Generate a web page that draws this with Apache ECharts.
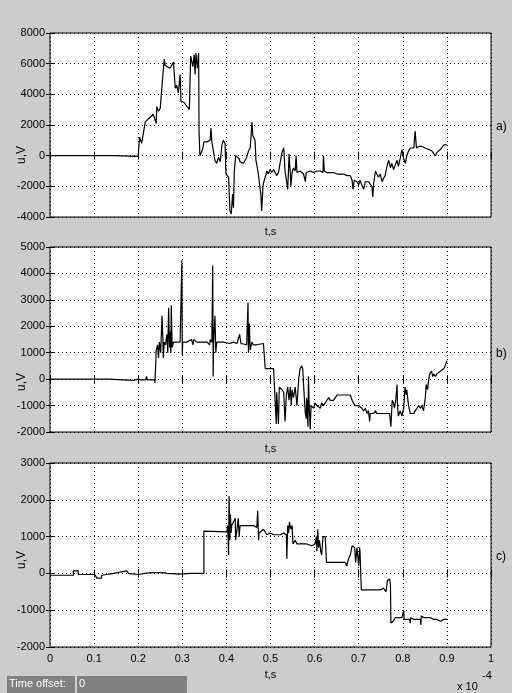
<!DOCTYPE html>
<html>
<head>
<meta charset="utf-8">
<script src="https://cdn.jsdelivr.net/npm/echarts@6/dist/echarts.min.js"></script>
<style>
html,body{margin:0;padding:0;background:#cccccc;}
#c{width:512px;height:693px;}
</style>
</head>
<body>
<div id="c"></div>
<script>
// time in units of 1e-4 s, voltage in V
const xTicks = [0,0.1,0.2,0.3,0.4,0.5,0.6,0.7,0.8,0.9,1];
const panelLabels = ['a)','b)','c)'];
const yName = 'u,V';
const yRangeA = [-4000, 8000, 2000];
const yRangeB = [-2000, 5000, 1000];
const yRangeC = [-2000, 3000, 1000];

const seriesA = [[0,0],[0.145,0],[0.145,-50],[0.2,-50],[0.2,0],[0.203,1200],[0.208,800],[0.212,1500],[0.216,2200],[0.234,2700],[0.241,2100],[0.242,3200],[0.246,2900],[0.25,3100],[0.253,4200],[0.257,4300],[0.259,6300],[0.261,5900],[0.272,5700],[0.276,5800],[0.28,6100],[0.284,4400],[0.287,4600],[0.291,4100],[0.295,5300],[0.297,3500],[0.303,3500],[0.316,3000],[0.319,6500],[0.324,5800],[0.327,6600],[0.329,5300],[0.331,6700],[0.334,5700],[0.337,6700],[0.338,1500],[0.34,0],[0.343,-100],[0.346,400],[0.349,900],[0.356,900],[0.363,1000],[0.365,1800],[0.367,900],[0.371,800],[0.374,-300],[0.378,-500],[0.382,-100],[0.386,-400],[0.39,700],[0.393,1000],[0.397,800],[0.399,-1200],[0.405,-1400],[0.407,-1300],[0.408,-3600],[0.411,-3800],[0.414,-2500],[0.416,-3400],[0.418,-1000],[0.421,0],[0.425,100],[0.429,-200],[0.431,-400],[0.435,-300],[0.439,-500],[0.443,-400],[0.446,-100],[0.45,300],[0.454,500],[0.458,2200],[0.46,1300],[0.463,1300],[0.465,1000],[0.467,-300],[0.469,-600],[0.473,-1300],[0.475,-1800],[0.478,-2500],[0.48,-3600],[0.483,-2000],[0.484,-1800],[0.488,-1900],[0.492,-1000],[0.495,-1200],[0.499,-900],[0.503,-1100],[0.507,-900],[0.511,-1000],[0.514,-1300],[0.518,-1100],[0.522,-1000],[0.526,200],[0.53,500],[0.533,-1000],[0.537,-1000],[0.539,-2200],[0.541,-800],[0.542,100],[0.545,-1200],[0.546,-2000],[0.549,-1100],[0.552,-800],[0.556,-1000],[0.558,0],[0.56,-1100],[0.564,-1100],[0.567,-1000],[0.571,-1000],[0.575,-1200],[0.579,-1700],[0.581,-1100],[0.59,-1000],[0.598,-1100],[0.605,-1000],[0.613,-1000],[0.619,-1100],[0.62,0],[0.622,-1000],[0.628,-1100],[0.635,-1100],[0.643,-1100],[0.651,-1200],[0.658,-1200],[0.666,-1200],[0.673,-1300],[0.681,-1300],[0.685,-1600],[0.687,-2200],[0.69,-1600],[0.696,-1700],[0.7,-1900],[0.703,-1600],[0.707,-1700],[0.711,-2200],[0.715,-1700],[0.719,-1800],[0.722,-1700],[0.726,-1800],[0.73,-2000],[0.732,-2700],[0.734,-1800],[0.738,-1000],[0.741,-1200],[0.745,-1400],[0.749,-1200],[0.753,-1700],[0.756,-1500],[0.76,-1300],[0.764,-700],[0.768,-300],[0.772,-800],[0.775,-500],[0.779,-900],[0.783,-600],[0.787,-300],[0.79,-700],[0.794,-200],[0.798,400],[0.802,-200],[0.806,-500],[0.809,0],[0.813,300],[0.817,500],[0.821,400],[0.825,500],[0.828,1600],[0.831,500],[0.836,600],[0.843,600],[0.851,500],[0.859,400],[0.866,300],[0.874,0],[0.877,200],[0.881,100],[0.885,400],[0.889,300],[0.893,700],[0.896,600],[0.9,700]];

const seriesB = [[0,0],[0.132,0],[0.132,-50],[0.189,-50],[0.189,0],[0.2,0],[0.205,-30],[0.217,-30],[0.219,100],[0.221,-30],[0.238,-30],[0.238,-150],[0.241,1100],[0.244,1300],[0.246,800],[0.248,1400],[0.251,1000],[0.254,2400],[0.256,1500],[0.257,800],[0.259,1400],[0.262,1300],[0.265,1700],[0.267,1000],[0.269,2700],[0.271,1200],[0.272,1800],[0.274,1000],[0.275,2800],[0.277,1200],[0.28,1400],[0.287,1400],[0.295,1400],[0.299,4500],[0.3,900],[0.301,1400],[0.31,1400],[0.321,1500],[0.324,1300],[0.326,1500],[0.333,1400],[0.34,1400],[0.356,1400],[0.362,1300],[0.363,1500],[0.367,1400],[0.369,4300],[0.37,100],[0.371,1400],[0.374,2400],[0.376,1000],[0.378,1400],[0.386,1400],[0.393,1400],[0.408,1350],[0.416,1400],[0.424,1350],[0.43,1700],[0.433,1350],[0.446,1300],[0.449,2900],[0.45,1000],[0.452,2100],[0.454,1100],[0.458,1400],[0.461,1300],[0.469,1300],[0.484,1350],[0.488,1300],[0.488,400],[0.507,400],[0.511,-1000],[0.513,-1700],[0.514,-500],[0.518,-1700],[0.52,-300],[0.526,-400],[0.53,-500],[0.533,-1600],[0.536,-600],[0.539,-300],[0.542,-800],[0.545,-300],[0.547,-1000],[0.549,-400],[0.552,-700],[0.556,-300],[0.56,-1000],[0.564,0],[0.567,400],[0.571,500],[0.573,400],[0.576,-500],[0.579,-1300],[0.581,-1500],[0.582,-700],[0.585,-1800],[0.586,100],[0.588,-1100],[0.59,-1900],[0.592,-1000],[0.594,-1000],[0.598,-1100],[0.601,-900],[0.605,-1000],[0.609,-1000],[0.613,-1100],[0.616,-900],[0.62,-1000],[0.624,-1000],[0.628,-800],[0.632,-700],[0.635,-800],[0.643,-800],[0.647,-700],[0.651,-600],[0.658,-600],[0.666,-600],[0.673,-600],[0.681,-600],[0.685,-800],[0.688,-900],[0.692,-1000],[0.7,-1000],[0.707,-1100],[0.711,-1200],[0.715,-1100],[0.719,-1300],[0.722,-1200],[0.725,-1600],[0.726,-1300],[0.734,-1300],[0.738,-1200],[0.741,-1300],[0.745,-1300],[0.756,-1300],[0.764,-1300],[0.77,-1300],[0.773,-1800],[0.776,-800],[0.779,-900],[0.781,-1100],[0.784,-800],[0.787,-200],[0.788,-1000],[0.79,-1400],[0.794,-1200],[0.798,-1400],[0.802,-1100],[0.805,-300],[0.808,-600],[0.809,-400],[0.813,-1000],[0.817,-1300],[0.825,-1300],[0.828,-1200],[0.832,-1100],[0.836,-1000],[0.84,-1100],[0.843,-1000],[0.847,-1200],[0.851,-700],[0.853,-200],[0.856,-400],[0.859,0],[0.861,200],[0.865,300],[0.868,100],[0.87,200],[0.874,100],[0.877,200],[0.881,200],[0.885,300],[0.889,300],[0.893,400],[0.896,500],[0.9,700]];

const seriesC = [[0,-50],[0.053,-50],[0.053,70],[0.064,70],[0.064,-30],[0.102,-30],[0.102,-50],[0.106,-130],[0.117,-130],[0.117,-50],[0.121,0],[0.144,0],[0.144,50],[0.174,70],[0.178,0],[0.2,-30],[0.204,0],[0.227,20],[0.257,20],[0.265,0],[0.295,-20],[0.318,0],[0.349,0],[0.349,1150],[0.401,1130],[0.403,1300],[0.405,500],[0.406,2100],[0.408,900],[0.409,1600],[0.411,1100],[0.412,1300],[0.416,1300],[0.42,1500],[0.421,900],[0.425,1300],[0.427,1500],[0.429,1000],[0.431,1300],[0.446,1300],[0.461,1300],[0.469,1250],[0.471,1700],[0.473,900],[0.474,1100],[0.477,1100],[0.484,1200],[0.492,1050],[0.499,1100],[0.507,1050],[0.522,1050],[0.53,1100],[0.536,1050],[0.537,400],[0.539,1300],[0.541,1100],[0.543,1400],[0.546,1200],[0.549,1300],[0.551,800],[0.556,900],[0.56,800],[0.564,850],[0.571,800],[0.582,800],[0.594,750],[0.601,800],[0.604,1000],[0.605,600],[0.607,1200],[0.609,700],[0.611,900],[0.614,600],[0.616,500],[0.619,1000],[0.624,1000],[0.627,300],[0.632,300],[0.643,300],[0.658,300],[0.669,300],[0.673,200],[0.677,400],[0.681,500],[0.685,750],[0.688,700],[0.691,700],[0.693,300],[0.696,700],[0.698,700],[0.7,200],[0.702,700],[0.703,600],[0.706,-450],[0.719,-450],[0.734,-450],[0.738,-400],[0.749,-450],[0.756,-400],[0.762,-500],[0.765,-200],[0.769,-200],[0.77,-150],[0.772,-300],[0.773,-1350],[0.778,-1300],[0.779,-1250],[0.783,-1200],[0.79,-1200],[0.798,-1200],[0.802,-1000],[0.803,-1250],[0.809,-1250],[0.815,-1250],[0.817,-1350],[0.818,-1200],[0.825,-1250],[0.84,-1250],[0.841,-1400],[0.842,-1150],[0.847,-1200],[0.862,-1200],[0.87,-1250],[0.877,-1250],[0.885,-1300],[0.893,-1250],[0.9,-1250]];

const FONT = 'Liberation Sans';
const chart = echarts.init(document.getElementById('c'), null, {renderer:'canvas'});

const grids = [
  {left:50, top:33, width:441, height:184},
  {left:50, top:247, width:441, height:185},
  {left:50, top:463, width:441, height:184}
];
const yRanges = [yRangeA, yRangeB, yRangeC];
const datas = [seriesA, seriesB, seriesC];
const xNameGaps = [9, 11, 22];

const grid = [], xAxis = [], yAxis = [], series = [];
grids.forEach((g, i) => {
  grid.push(Object.assign({show:true, backgroundColor:'#ffffff', borderColor:'#000', borderWidth:1,
    containLabel:false, outerBoundsMode:'none'}, g));
  const splitLine = {show:true, lineStyle:{color:'#000', type:[1,3], width:1}};
  xAxis.push({
    type:'value', gridIndex:i, min:xTicks[0], max:xTicks[xTicks.length-1], interval:0.1,
    position:'bottom',
    axisLine:{show:false}, axisTick:{show:true, inside:true, length:4, lineStyle:{color:'#000'}},
    axisLabel:{show:i===2, color:'#000', fontFamily:FONT, fontSize:11, margin:6,
      formatter:v => String(+v.toFixed(1))},
    splitLine:splitLine,
    name:'t,s', nameLocation:'middle', nameGap:xNameGaps[i], nameMoveOverlap:false,
    nameTextStyle:{color:'#000', fontFamily:FONT, fontSize:11}
  });
  xAxis.push({
    type:'value', gridIndex:i, min:0, max:1, interval:0.1, position:'top',
    axisLine:{show:false}, axisTick:{show:true, inside:true, length:4, lineStyle:{color:'#000'}},
    axisLabel:{show:false}, splitLine:{show:false}
  });
  const r = yRanges[i];
  yAxis.push({
    type:'value', gridIndex:i, min:r[0], max:r[1], interval:r[2], position:'left',
    axisLine:{show:false}, axisTick:{show:true, inside:true, length:4, lineStyle:{color:'#000'}},
    axisLabel:{color:'#000', fontFamily:FONT, fontSize:11, margin:5, formatter:v => String(Math.round(v))},
    splitLine:splitLine
  });
  yAxis.push({
    type:'value', gridIndex:i, min:r[0], max:r[1], interval:r[2], position:'right',
    axisLine:{show:false}, axisTick:{show:true, inside:true, length:4, lineStyle:{color:'#000'}},
    axisLabel:{show:false}, splitLine:{show:false}
  });
  series.push({
    type:'line', xAxisIndex:i*2, yAxisIndex:i*2, data:datas[i],
    showSymbol:false, symbol:'none', sampling:null,
    lineStyle:{color:'#000', width:1.2}, animation:false, z:5
  });
});

const labelY = [128, 355, 558];
const yNameY = [155, 382, 560];
const graphic = panelLabels.map((t, i) => ({
  type:'text', left:496, top:labelY[i]-7,
  style:{text:t, fill:'#000', font:'12px "' + FONT + '"'}
}));
yNameY.forEach(y => graphic.push({
  type:'text', x:22, y:y, rotation:Math.PI/2, z:10,
  style:{text:yName, fill:'#000', font:'12px "' + FONT + '"', align:'center', verticalAlign:'middle'}
}));
graphic.push(
  {type:'rect', shape:{x:7, y:676, width:68, height:17}, style:{fill:'#808080'}},
  {type:'rect', shape:{x:77, y:676, width:110, height:17}, style:{fill:'#808080'}},
  {type:'text', left:9, top:678, style:{text:'Time offset:', fill:'#fff', font:'11px "' + FONT + '"'}},
  {type:'text', left:79, top:678, style:{text:'0', fill:'#fff', font:'11px "' + FONT + '"'}},
  {type:'text', left:457, top:681, style:{text:'x 10', fill:'#000', font:'11px "' + FONT + '"'}},
  {type:'text', left:482, top:670, style:{text:'-4', fill:'#000', font:'11px "' + FONT + '"'}}
);

chart.setOption({
  backgroundColor:'#cccccc',
  animation:false,
  grid:grid, xAxis:xAxis, yAxis:yAxis, series:series, graphic:graphic
});
</script>
</body>
</html>
